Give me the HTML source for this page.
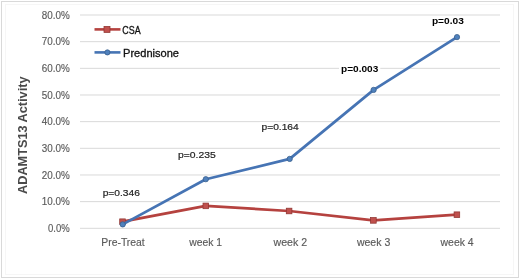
<!DOCTYPE html><html><head><meta charset="utf-8"><style>html,body{margin:0;padding:0;background:#fff;}svg{display:block;-webkit-font-smoothing:antialiased;will-change:transform;}text{font-family:"Liberation Sans",sans-serif;}</style></head><body>
<svg width="520" height="279" viewBox="0 0 520 279">
<rect x="0" y="0" width="520" height="279" fill="#fff"/>
<rect x="1.5" y="1.5" width="517" height="276" fill="none" stroke="#d9d9d9" stroke-width="1"/>
<rect x="5.5" y="4.5" width="508" height="270" fill="none" stroke="#f6f6f6" stroke-width="1"/>
<line x1="80" y1="15.00" x2="500" y2="15.00" stroke="#d9d9d9" stroke-width="1"/>
<line x1="80" y1="41.66" x2="500" y2="41.66" stroke="#d9d9d9" stroke-width="1"/>
<line x1="80" y1="68.33" x2="500" y2="68.33" stroke="#d9d9d9" stroke-width="1"/>
<line x1="80" y1="94.99" x2="500" y2="94.99" stroke="#d9d9d9" stroke-width="1"/>
<line x1="80" y1="121.65" x2="500" y2="121.65" stroke="#d9d9d9" stroke-width="1"/>
<line x1="80" y1="148.31" x2="500" y2="148.31" stroke="#d9d9d9" stroke-width="1"/>
<line x1="80" y1="174.98" x2="500" y2="174.98" stroke="#d9d9d9" stroke-width="1"/>
<line x1="80" y1="201.64" x2="500" y2="201.64" stroke="#d9d9d9" stroke-width="1"/>
<line x1="80" y1="228.30" x2="500" y2="228.30" stroke="#d9d9d9" stroke-width="1"/>
<text x="69.7" y="18.70" font-size="10.5" fill="#5a5a5a" stroke="#5a5a5a" stroke-width="0.15" text-anchor="end" textLength="28.0" lengthAdjust="spacingAndGlyphs">80.0%</text>
<text x="69.7" y="45.36" font-size="10.5" fill="#5a5a5a" stroke="#5a5a5a" stroke-width="0.15" text-anchor="end" textLength="28.0" lengthAdjust="spacingAndGlyphs">70.0%</text>
<text x="69.7" y="72.03" font-size="10.5" fill="#5a5a5a" stroke="#5a5a5a" stroke-width="0.15" text-anchor="end" textLength="28.0" lengthAdjust="spacingAndGlyphs">60.0%</text>
<text x="69.7" y="98.69" font-size="10.5" fill="#5a5a5a" stroke="#5a5a5a" stroke-width="0.15" text-anchor="end" textLength="28.0" lengthAdjust="spacingAndGlyphs">50.0%</text>
<text x="69.7" y="125.35" font-size="10.5" fill="#5a5a5a" stroke="#5a5a5a" stroke-width="0.15" text-anchor="end" textLength="28.0" lengthAdjust="spacingAndGlyphs">40.0%</text>
<text x="69.7" y="152.01" font-size="10.5" fill="#5a5a5a" stroke="#5a5a5a" stroke-width="0.15" text-anchor="end" textLength="28.0" lengthAdjust="spacingAndGlyphs">30.0%</text>
<text x="69.7" y="178.68" font-size="10.5" fill="#5a5a5a" stroke="#5a5a5a" stroke-width="0.15" text-anchor="end" textLength="28.0" lengthAdjust="spacingAndGlyphs">20.0%</text>
<text x="69.7" y="205.34" font-size="10.5" fill="#5a5a5a" stroke="#5a5a5a" stroke-width="0.15" text-anchor="end" textLength="28.0" lengthAdjust="spacingAndGlyphs">10.0%</text>
<text x="69.7" y="232.00" font-size="10.5" fill="#5a5a5a" stroke="#5a5a5a" stroke-width="0.15" text-anchor="end" textLength="21.7" lengthAdjust="spacingAndGlyphs">0.0%</text>
<text x="101.25" y="246" font-size="10.8" fill="#5a5a5a" stroke="#5a5a5a" stroke-width="0.15" textLength="43.5" lengthAdjust="spacingAndGlyphs">Pre-Treat</text>
<text x="189.35" y="246" font-size="10.8" fill="#5a5a5a" stroke="#5a5a5a" stroke-width="0.15" textLength="32.7" lengthAdjust="spacingAndGlyphs">week 1</text>
<text x="273.50" y="246" font-size="10.8" fill="#5a5a5a" stroke="#5a5a5a" stroke-width="0.15" textLength="33.6" lengthAdjust="spacingAndGlyphs">week 2</text>
<text x="356.95" y="246" font-size="10.8" fill="#5a5a5a" stroke="#5a5a5a" stroke-width="0.15" textLength="33.3" lengthAdjust="spacingAndGlyphs">week 3</text>
<text x="440.55" y="246" font-size="10.8" fill="#5a5a5a" stroke="#5a5a5a" stroke-width="0.15" textLength="33.1" lengthAdjust="spacingAndGlyphs">week 4</text>
<text transform="translate(27,193.9) rotate(-90)" x="0" y="0" font-size="12.5" font-weight="bold" fill="#4a4a4a" textLength="117.4" lengthAdjust="spacingAndGlyphs">ADAMTS13 Activity</text>
<polyline points="122.5,221.7 205.8,205.9 289.1,211.0 373.4,220.4 456.9,214.7" fill="none" stroke="#b5423f" stroke-width="2.7" stroke-linejoin="round" stroke-linecap="round"/>
<rect x="119.70" y="218.90" width="5.6" height="5.6" fill="#c0504d" stroke="#8f3431" stroke-width="0.75"/>
<rect x="203.00" y="203.10" width="5.6" height="5.6" fill="#c0504d" stroke="#8f3431" stroke-width="0.75"/>
<rect x="286.30" y="208.20" width="5.6" height="5.6" fill="#c0504d" stroke="#8f3431" stroke-width="0.75"/>
<rect x="370.60" y="217.60" width="5.6" height="5.6" fill="#c0504d" stroke="#8f3431" stroke-width="0.75"/>
<rect x="454.10" y="211.90" width="5.6" height="5.6" fill="#c0504d" stroke="#8f3431" stroke-width="0.75"/>
<polyline points="122.7,224.4 205.8,179.2 289.7,158.9 373.6,89.9 457.0,37.1" fill="none" stroke="#4674b4" stroke-width="2.7" stroke-linejoin="round" stroke-linecap="round"/>
<circle cx="122.7" cy="224.4" r="2.65" fill="#4f81bd" stroke="#385d8a" stroke-width="0.75"/>
<circle cx="205.8" cy="179.2" r="2.65" fill="#4f81bd" stroke="#385d8a" stroke-width="0.75"/>
<circle cx="289.7" cy="158.9" r="2.65" fill="#4f81bd" stroke="#385d8a" stroke-width="0.75"/>
<circle cx="373.6" cy="89.9" r="2.65" fill="#4f81bd" stroke="#385d8a" stroke-width="0.75"/>
<circle cx="457.0" cy="37.1" r="2.65" fill="#4f81bd" stroke="#385d8a" stroke-width="0.75"/>
<line x1="94.5" y1="29.4" x2="120.5" y2="29.4" stroke="#b5423f" stroke-width="2.6"/>
<rect x="104" y="26.4" width="6" height="6" fill="#c0504d" stroke="#8f3431" stroke-width="0.75"/>
<line x1="94.5" y1="52.4" x2="120.5" y2="52.4" stroke="#4674b4" stroke-width="2.6"/>
<circle cx="107.4" cy="52.4" r="2.6" fill="#4f81bd" stroke="#385d8a" stroke-width="0.75"/>
<text x="122.3" y="33.5" font-size="10.5" fill="#111" stroke="#111" stroke-width="0.3" textLength="18.3" lengthAdjust="spacingAndGlyphs">CSA</text>
<text x="123" y="56.5" font-size="10.8" fill="#111" stroke="#111" stroke-width="0.3" textLength="56" lengthAdjust="spacingAndGlyphs">Prednisone</text>
<rect x="100.70" y="188.80" width="41.20" height="10" fill="#fff"/>
<text x="102.7" y="196.10" font-size="9.8" stroke="#222" stroke-width="0.2" fill="#1e1e1e" textLength="37.20" lengthAdjust="spacingAndGlyphs">p=0.346</text>
<rect x="176.00" y="150.30" width="41.70" height="10" fill="#fff"/>
<text x="178.0" y="157.60" font-size="9.8" stroke="#222" stroke-width="0.2" fill="#1e1e1e" textLength="37.70" lengthAdjust="spacingAndGlyphs">p=0.235</text>
<rect x="259.50" y="122.50" width="41.25" height="10" fill="#fff"/>
<text x="261.5" y="129.80" font-size="9.8" stroke="#222" stroke-width="0.2" fill="#1e1e1e" textLength="37.25" lengthAdjust="spacingAndGlyphs">p=0.164</text>
<rect x="339.00" y="64.50" width="41.30" height="10" fill="#fff"/>
<text x="341.0" y="71.80" font-size="9.6" font-weight="bold" fill="#000" textLength="37.30" lengthAdjust="spacingAndGlyphs">p=0.003</text>
<rect x="429.90" y="16.50" width="35.90" height="10" fill="#fff"/>
<text x="431.9" y="23.80" font-size="9.6" font-weight="bold" fill="#000" textLength="31.90" lengthAdjust="spacingAndGlyphs">p=0.03</text>
</svg></body></html>
